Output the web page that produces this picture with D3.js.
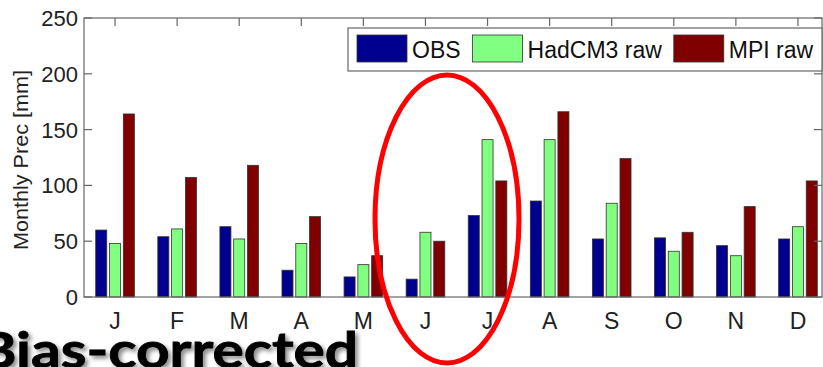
<!DOCTYPE html>
<html>
<head>
<meta charset="utf-8">
<script src="https://cdn.jsdelivr.net/npm/d3@7.9.0/dist/d3.min.js"></script>
<style>
  html, body { margin: 0; padding: 0; background: #fff; }
  svg { display: block; font-family: "Liberation Sans", Arial, sans-serif; }
</style>
</head>
<body>
<svg id="chart" width="823" height="367"></svg>
<script>
// monthly precipitation data (mm)
const months = ['J', 'F', 'M', 'A', 'M', 'J', 'J', 'A', 'S', 'O', 'N', 'D'];
const obs = [60, 54, 63, 24, 18, 16, 73, 86, 52, 53, 46, 52];
const hadcm3 = [48, 61, 52, 48, 29, 58, 141, 141, 84, 41, 37, 63];
const mpi = [164, 107, 118, 72, 37, 50, 104, 166, 124, 58, 81, 104];
const seriesNames = ['OBS', 'HadCM3 raw', 'MPI raw'];
const yTicks = [0, 50, 100, 150, 200, 250];

const colors = ['#000090', '#80ff80', '#800000'];

const svg = d3.select('#chart');

// plot frame
const plotL = 84, plotR = 822, plotT = 18, plotB = 297;

const x = d3.scaleLinear().domain([0.5, 12.5]).range([plotL, 829]);
const y = d3.scaleLinear().domain([0, 250]).range([plotB, plotT]);

const unit = x(2) - x(1);
const slot = (unit * (2 / 3)) / 3;
const barW = slot * 0.8;

// === bars ===
const series = [obs, hadcm3, mpi];
series.forEach((vals, si) => {
  svg.append('g')
    .selectAll('rect')
    .data(vals)
    .join('rect')
    .attr('x', (d, i) => x(i + 1) + (si - 1) * slot - barW / 2)
    .attr('y', (d) => y(d))
    .attr('width', barW)
    .attr('height', (d) => y(0) - y(d))
    .attr('fill', colors[si])
    .attr('stroke', '#333')
    .attr('stroke-width', 0.8);
});

// === axes frame and ticks ===
const axisColor = '#666';
svg.append('rect')
  .attr('x', plotL).attr('y', plotT)
  .attr('width', plotR - plotL).attr('height', plotB - plotT)
  .attr('fill', 'none').attr('stroke', axisColor).attr('stroke-width', 1.2);

const tickLen = 8;
// top ticks (month positions)
svg.append('g')
  .selectAll('line')
  .data(months)
  .join('line')
  .attr('x1', (d, i) => x(i + 1)).attr('x2', (d, i) => x(i + 1))
  .attr('y1', plotT).attr('y2', plotT + tickLen)
  .attr('stroke', axisColor).attr('stroke-width', 1.2);

// y ticks left and right
svg.append('g')
  .selectAll('line')
  .data(yTicks)
  .join('line')
  .attr('x1', plotL).attr('x2', plotL + tickLen)
  .attr('y1', (d) => y(d)).attr('y2', (d) => y(d))
  .attr('stroke', axisColor).attr('stroke-width', 1.2);
svg.append('g')
  .selectAll('line')
  .data(yTicks)
  .join('line')
  .attr('x1', plotR - tickLen).attr('x2', plotR)
  .attr('y1', (d) => y(d)).attr('y2', (d) => y(d))
  .attr('stroke', axisColor).attr('stroke-width', 1.2);

// y tick labels
svg.append('g')
  .selectAll('text')
  .data(yTicks)
  .join('text')
  .attr('x', plotL - 6)
  .attr('y', (d) => y(d) + 8)
  .attr('text-anchor', 'end')
  .attr('font-size', 22)
  .attr('fill', '#222')
  .text((d) => d);

// x tick labels
svg.append('g')
  .selectAll('text')
  .data(months)
  .join('text')
  .attr('x', (d, i) => x(i + 1))
  .attr('y', 329)
  .attr('text-anchor', 'middle')
  .attr('font-size', 23)
  .attr('fill', '#222')
  .text((d) => d);

// y axis label
svg.append('text')
  .attr('transform', 'translate(27.5,160) rotate(-90)')
  .attr('text-anchor', 'middle')
  .attr('font-size', 20)
  .attr('fill', '#222')
  .attr('textLength', 180)
  .attr('lengthAdjust', 'spacingAndGlyphs')
  .text('Monthly Prec [mm]');

// === legend ===
const legend = svg.append('g');
legend.append('rect')
  .attr('x', 348).attr('y', 28)
  .attr('width', plotR - 348).attr('height', 43)
  .attr('fill', '#fff').attr('stroke', axisColor).attr('stroke-width', 1.2);

let lx = 357;
seriesNames.forEach((name, i) => {
  legend.append('rect')
    .attr('x', lx).attr('y', 35)
    .attr('width', 50).attr('height', 27)
    .attr('fill', colors[i])
    .attr('stroke', '#333').attr('stroke-width', 0.8);
  const t = legend.append('text')
    .attr('x', lx + 55).attr('y', 58)
    .attr('font-size', 23)
    .attr('fill', '#111')
    .text(name);
  lx = lx + 55 + t.node().getComputedTextLength() + 12;
});

// === annotation: red ellipse ===
svg.append('ellipse')
  .attr('cx', 447).attr('cy', 219)
  .attr('rx', 72).attr('ry', 144)
  .attr('fill', 'none')
  .attr('stroke', '#ff0000')
  .attr('stroke-width', 5);

// === slide text over the chart ===
const defs = svg.append('defs');
const f = defs.append('filter').attr('id', 'shadow')
  .attr('x', '-10%').attr('y', '-30%').attr('width', '130%').attr('height', '170%');
f.append('feDropShadow')
  .attr('dx', 3).attr('dy', 3).attr('stdDeviation', 2)
  .attr('flood-color', '#000').attr('flood-opacity', 0.45);

svg.append('text')
  .attr('x', -22).attr('y', 368)
  .attr('font-family', 'Lato, "Open Sans", sans-serif')
  .attr('font-weight', 700)
  .attr('font-size', 49)
  .attr('fill', '#000')
  .attr('stroke', '#000')
  .attr('stroke-width', 0.8)
  .attr('textLength', 380)
  .attr('lengthAdjust', 'spacingAndGlyphs')
  .attr('filter', 'url(#shadow)')
  .text('Bias-corrected');
</script>
</body>
</html>
